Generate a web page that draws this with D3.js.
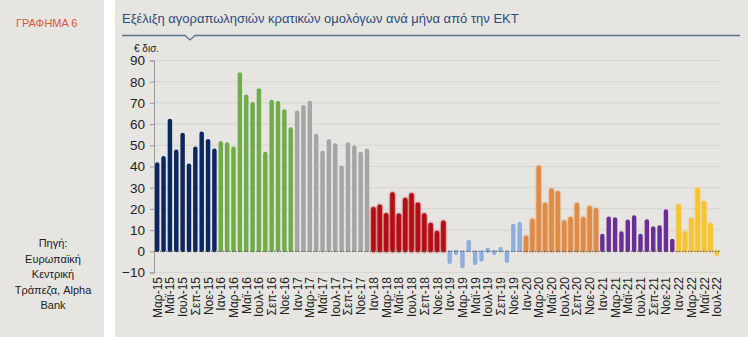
<!DOCTYPE html>
<html><head><meta charset="utf-8">
<script src="https://cdn.jsdelivr.net/npm/d3@7"></script>
<style>
html,body{margin:0;padding:0;background:#fff;}
svg{display:block;font-family:"Liberation Sans",Arial,sans-serif;}
</style></head>
<body><svg id="c" width="748" height="337"></svg>
<script>
const monthNames = ["Ιαν","Φεβ","Μαρ","Απρ","Μαϊ","Ιουν","Ιουλ","Αυγ","Σεπ","Οκτ","Νοε","Δεκ"];
const years = [2015,2016,2017,2018,2019,2020,2021,2022];
const v2015 = [41.5,44.5,62,47.5,55.5,41,49,56,52.5,48];
const v2016 = [51.5,51,49,84,73.5,70,76.5,46.5,71,70.5,66.5,58];
const v2017 = [66,68.5,70.5,55,47,52.5,50.5,40,51,49.5,46.5,48];
const v2018 = [20.4,21.6,17.6,27.4,17.4,24.8,27,22.6,17.5,13,9.2,14];
const v2019 = [-5.5,-1,-7.5,5,-6,-4.5,1,-1,1.5,-5,12.5,13.5];
const v2020 = [7,15,40,22.4,29.3,28,14.2,15.8,22.4,15.8,21,20];
const v2021 = [7.8,16,15.6,9,14.5,16.5,7.8,14.7,11.3,11.8,19.4,5.4];
const v2022 = [21.8,9,15.3,29.5,23.3,13,-1.5];
const yearValues = [v2015,v2016,v2017,v2018,v2019,v2020,v2021,v2022];
const yearColors = ["#0c2660","#70ad47","#a5a5a5","#b40f14","#8eaedb","#e08b45","#6a2f95","#f5c431"];
const startMonth = [2,0,0,0,0,0,0,0];
const yTicks = [-10,0,10,20,30,40,50,60,70,80,90];

const data = [];
yearValues.forEach((arr,yi)=>{
  arr.forEach((v,i)=>{
    const m = startMonth[yi]+i;
    data.push({label: monthNames[m]+"-"+String(years[yi]).slice(2), value:v, color:yearColors[yi], idx:data.length});
  });
});

const svg = d3.select("#c");
svg.append("rect").attr("x",0).attr("y",0).attr("width",104).attr("height",337).attr("fill","#e6e5e1");
svg.append("rect").attr("x",115).attr("y",0).attr("width",633).attr("height",337).attr("fill","#e6e5e1");

svg.append("text").attr("x",16).attr("y",27).attr("font-size",11).attr("fill","#d9573b").text("ΓΡΑΦΗΜΑ 6");
svg.append("text").attr("x",122).attr("y",23).attr("font-size",13).attr("fill","#2e4b7b")
  .text("Εξέλιξη αγοραπωλησιών κρατικών ομολόγων ανά μήνα από την ΕΚΤ");
svg.append("path").attr("d","M122,35.5 H185 L190,40 L195,35.5 H740").attr("fill","none").attr("stroke","#5d7290").attr("stroke-width",1.3);

const src = ["Πηγή:","Ευρωπαϊκή","Κεντρική","Τράπεζα, Alpha","Bank"];
src.forEach((t,i)=>svg.append("text").attr("x",53).attr("y",247+i*15.5).attr("text-anchor","middle").attr("font-size",11).attr("fill","#222").text(t));

const y = d3.scaleLinear().domain([-10,90]).range([272.5,60.5]);
const x = d3.scaleBand().domain(data.map(d=>d.idx)).range([154,720]).paddingInner(0.3).paddingOuter(0.15);

svg.append("g").selectAll("line").data(yTicks.filter(t=>t!==0)).join("line")
  .attr("x1",154).attr("x2",720).attr("y1",d=>y(d)).attr("y2",d=>y(d))
  .attr("stroke","#d6d5d1").attr("stroke-width",1);

const ya = svg.append("g").attr("transform","translate(154,0)")
  .call(d3.axisLeft(y).tickValues(yTicks).tickSize(4).tickPadding(5));
ya.select(".domain").attr("stroke","#999");
ya.selectAll(".tick line").attr("stroke","#999");
ya.selectAll("text").attr("font-size",13.5).attr("fill","#222").attr("font-family","Liberation Sans, Arial, sans-serif");
svg.append("text").attr("x",134).attr("y",52).attr("font-size",10).attr("fill","#222").text("€ δισ.");

const defs = svg.append("defs");
const f = defs.append("filter").attr("id","glow").attr("x","-100%").attr("y","-20%").attr("width","300%").attr("height","140%");
f.append("feGaussianBlur").attr("in","SourceGraphic").attr("stdDeviation",1.2).attr("result","b");
const mg = f.append("feMerge"); mg.append("feMergeNode").attr("in","b"); mg.append("feMergeNode").attr("in","SourceGraphic");

const bw = x.bandwidth();
svg.append("g").selectAll("path").data(data).join("path")
  .attr("d",d=>{
    const x0 = x(d.idx), y0 = y(0), y1 = y(d.value), r = Math.min(bw/2, Math.abs(y0-y1)/2+0.5);
    const top = Math.min(y0,y1)-1, bot = Math.max(y0,y1)+1;
    return `M${x0},${top+r} A${r},${r} 0 0 1 ${x0+bw},${top+r} V${bot-r} A${r},${r} 0 0 1 ${x0},${bot-r} Z`;
  })
  .attr("fill",d=>d.color)
  .attr("filter",d=>["#b40f14","#e08b45","#f5c431"].includes(d.color)?"url(#glow)":null);

svg.append("line").attr("x1",154).attr("x2",720).attr("y1",y(0)).attr("y2",y(0)).attr("stroke","#555").attr("stroke-width",1).attr("stroke-dasharray","1.5,1.5");

svg.append("g").selectAll("text").data(data.filter((d,i)=>i%2===0)).join("text")
  .attr("transform",d=>`translate(${x(d.idx)+bw/2+4.5},277) rotate(-90)`)
  .attr("text-anchor","end").attr("font-size",12).attr("fill","#222").text(d=>d.label);
</script></body></html>
